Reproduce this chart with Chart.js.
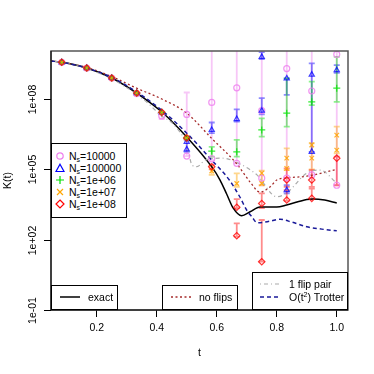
<!DOCTYPE html>
<html>
<head>
<meta charset="utf-8">
<script src="https://cdn.jsdelivr.net/npm/chart.js@4"></script>
<style>
body { margin: 0; background: #fff; font-family: "Liberation Sans", Arial, sans-serif; }
#wrap { position: relative; width: 374px; height: 374px; }
.lg { position: absolute; background: #fff; border: 1px solid #000; box-sizing: border-box; font-size: 10.5px; color: #000; }
.row { position: absolute; left: 0; height: 12px; line-height: 12px; white-space: nowrap; }
.row svg { position: absolute; }
.row .txt { position: absolute; top: 0; }
sub { font-size: 7px; vertical-align: -2px; line-height: 0; }
sup { font-size: 7px; vertical-align: 4px; line-height: 0; }
</style>
</head>
<body>
<div id="wrap">
  <canvas id="canvas" width="374" height="374"></canvas>

  <div class="lg" style="left:51px; top:143px; width:76px; height:75px;">
    <div class="row" style="top:6px"><svg style="left:3px;top:1px" width="10" height="10"><circle cx="5" cy="5" r="3.2" fill="none" stroke="#ee82ee" stroke-width="1.2"/></svg><span class="txt" style="left:17px">N<sub>s</sub>=10000</span></div>
    <div class="row" style="top:18px"><svg style="left:3px;top:1px" width="10" height="10"><polygon points="5,1.2 9,8.5 1,8.5" fill="none" stroke="#0000ff" stroke-width="1.2"/></svg><span class="txt" style="left:17px">N<sub>s</sub>=100000</span></div>
    <div class="row" style="top:30px"><svg style="left:3px;top:1px" width="10" height="10"><path d="M1 5H9M5 1V9" stroke="#00e000" stroke-width="1.2"/></svg><span class="txt" style="left:17px">N<sub>s</sub>=1e+06</span></div>
    <div class="row" style="top:42px"><svg style="left:3px;top:1px" width="10" height="10"><path d="M2 2L8 8M8 2L2 8" stroke="#ffa500" stroke-width="1.2"/></svg><span class="txt" style="left:17px">N<sub>s</sub>=1e+07</span></div>
    <div class="row" style="top:54px"><svg style="left:3px;top:1px" width="10" height="10"><polygon points="5,1 9,5 5,9 1,5" fill="none" stroke="#ff0000" stroke-width="1.2"/></svg><span class="txt" style="left:17px">N<sub>s</sub>=1e+08</span></div>
  </div>

  <div class="lg" style="left:51px; top:285px; width:67px; height:25px;">
    <div class="row" style="top:5px"><svg style="left:8px;top:0" width="22" height="12"><line x1="0" y1="6" x2="20" y2="6" stroke="#000" stroke-width="1.5"/></svg><span class="txt" style="left:36px">exact</span></div>
  </div>

  <div class="lg" style="left:162px; top:285px; width:76px; height:25px;">
    <div class="row" style="top:5px"><svg style="left:8px;top:0" width="22" height="12"><line x1="0" y1="6" x2="20" y2="6" stroke="#a52a2a" stroke-width="1.3" stroke-dasharray="2,2.5"/></svg><span class="txt" style="left:36px">no flips</span></div>
  </div>

  <div class="lg" style="left:252px; top:272px; width:96px; height:38px;">
    <div class="row" style="top:5px"><svg style="left:7px;top:0" width="22" height="12"><line x1="0" y1="6" x2="20" y2="6" stroke="#aaa" stroke-width="1.2" stroke-dasharray="1,3,4,3"/></svg><span class="txt" style="left:36px">1 flip pair</span></div>
    <div class="row" style="top:18px"><svg style="left:7px;top:0" width="22" height="12"><line x1="0" y1="6" x2="20" y2="6" stroke="#1a1a99" stroke-width="1.5" stroke-dasharray="4,3"/></svg><span class="txt" style="left:36px">O(t<sup>2</sup>) Trotter</span></div>
  </div>
</div>

<script>
// axis ticks
const xTicks = [0.2, 0.4, 0.6, 0.8, 1.0];
const yTicks = [1e-1, 1e2, 1e5, 1e8];
const yTickLabels = ['1e-01', '1e+02', '1e+05', '1e+08'];

// curves
const exactT = [0.047, 0.083, 0.167, 0.25, 0.333, 0.417, 0.5, 0.583, 0.611, 0.633, 0.655, 0.683, 0.711, 0.744, 0.8, 0.833, 0.9, 0.921, 0.96, 1.0];
const exactK = [4.2e9, 3.7e9, 2.1e9, 7.9e8, 1.8e8, 2.8e7, 2.4e6, 1.3e5, 3.5e4, 8.9e3, 2.2e3, 1.05e3, 1.55e3, 2.5e3, 2.45e3, 3.0e3, 5.2e3, 5.5e3, 4.9e3, 3.7e3];

const noFlipT = [0.047, 0.083, 0.167, 0.25, 0.333, 0.417, 0.5, 0.583, 0.667, 0.711, 0.744, 0.778, 0.8, 0.833, 0.9, 1.0];
const noFlipK = [4.2e9, 3.7e9, 2.2e9, 9.1e8, 2.9e8, 1.0e8, 2.5e7, 2.1e6, 1.7e5, 2.9e4, 1.07e4, 1.8e4, 3.5e4, 4.3e4, 5.1e4, 1.0e5];

const flipT = [0.047, 0.083, 0.167, 0.25, 0.333, 0.378, 0.411, 0.456, 0.5, 0.518, 0.534, 0.562, 0.618, 0.662, 0.734, 0.8, 0.833, 0.9, 0.944, 1.0];
const flipK = [4.2e9, 3.7e9, 2.0e9, 7.2e8, 1.6e8, 5.5e7, 2.1e7, 8.3e6, 1.1e6, 1.5e5, 1.3e5, 2.5e5, 3.0e5, 2.1e5, 5.8e4, 6.8e3, 9.8e3, 6.9e4, 9.3e4, 2.6e4];

const trotT = [0.047, 0.083, 0.167, 0.25, 0.333, 0.417, 0.5, 0.583, 0.642, 0.678, 0.7, 0.717, 0.735, 0.778, 0.811, 0.85, 0.9, 0.95, 1.0];
const trotK = [4.2e9, 3.7e9, 2.1e9, 8.3e8, 2.0e8, 3.3e7, 3.5e6, 2.5e5, 3.5e4, 6.3e3, 1.8e3, 955, 525, 617, 741, 562, 355, 282, 240];

// sampled estimates
const ns1e4T = [0.0833, 0.1667, 0.25, 0.3333, 0.4167, 0.5, 0.5, 0.5833, 0.5833, 0.6667, 0.6667, 0.75, 0.75, 0.8333, 0.8333, 0.9167, 0.9167, 1, 1];
const ns1e4K = [3.7e9, 2.1e9, 7.9e8, 1.7e8, 1.9e7, 2.2e7, 3.7e5, 7.2e7, 2.8e5, 3.0e8, 1.8e5, 3.2e7, 4.2e4, 2.0e9, 4.2e4, 2.2e8, 5.8e4, 8.1e9, 2.1e4];
const ns1e4BarT = [0.4167, 0.5, 0.5833, 0.6667, 0.75, 0.8333, 0.9167, 1];
const ns1e4Lo = [1.4e7, 3.7e5, 2.5e5, 1.8e5, 2.1e4, 4.2e4, 5.8e4, 2.1e4];
const ns1e4Hi = [2.8e7, 1.9e8, 1e11, 1e11, 1e11, 1e11, 1e11, 1e11];

const ns1e5T = [0.0833, 0.1667, 0.25, 0.3333, 0.4167, 0.5, 0.5, 0.5833, 0.6667, 0.75, 0.75, 0.8333, 0.8333, 0.9167, 0.9167, 1];
const ns1e5K = [3.7e9, 2.1e9, 7.9e8, 1.8e8, 2.7e7, 1.5e6, 7.1e5, 4.8e6, 1.4e7, 6.3e9, 3.2e7, 7.6e8, 1.3e4, 1.1e9, 5.6e5, 1.7e9];
const ns1e5BarT = [0.5, 0.5833, 0.6667, 0.75, 0.75, 0.8333, 0.8333, 0.9167, 1];
const ns1e5Lo = [5.6e5, 3.5e6, 1.1e7, 5.0e9, 2.2e7, 1.5e8, 9.5e3, 5.6e5, 1.3e9];
const ns1e5Hi = [1.8e6, 1.0e7, 3.6e7, 1.0e10, 1.1e8, 7.6e8, 2.1e4, 3.3e9, 2.8e9];

const ns1e6T = [0.0833, 0.1667, 0.25, 0.3333, 0.4167, 0.5, 0.5833, 0.6667, 0.75, 0.8333, 0.9167, 1];
const ns1e6K = [3.7e9, 2.1e9, 7.9e8, 1.8e8, 2.7e7, 2.2e6, 6.0e5, 5.6e5, 4.8e6, 2.5e7, 7.6e7, 2.9e8];
const ns1e6BarT = [0.5, 0.5833, 0.6667, 0.75, 0.8333, 0.9167, 1];
const ns1e6Lo = [2.0e6, 3.5e5, 3.5e5, 2.5e6, 6.6e6, 5.5e7, 7.6e7];
const ns1e6Hi = [2.5e6, 9.1e5, 1.8e6, 1.5e7, 7.6e8, 5.5e8, 6.3e9];

const ns1e7T = [0.0833, 0.1667, 0.25, 0.3333, 0.4167, 0.5, 0.5833, 0.6667, 0.75, 0.75, 0.8333, 0.8333, 0.9167, 0.9167, 1, 1];
const ns1e7K = [3.7e9, 2.1e9, 7.9e8, 1.8e8, 2.7e7, 2.2e6, 8.5e4, 2.5e4, 6.9e4, 2.5e4, 3.0e5, 1.1e5, 1.1e6, 3.0e5, 2.9e6, 6.6e5];
const ns1e7BarT = [0.5833, 0.6667, 0.75, 0.8333, 0.9167, 1];
const ns1e7Lo = [5.8e4, 1.8e4, 2.1e4, 9.3e4, 1.0e5, 4.8e5];
const ns1e7Hi = [1.4e5, 6.8e4, 8.9e4, 7.9e5, 1.3e6, 6.6e6];

const ns1e8T = [0.0833, 0.1667, 0.25, 0.3333, 0.4167, 0.5, 0.5833, 0.6667, 0.6667, 0.75, 0.75, 0.8333, 0.8333, 0.9167, 0.9167, 1];
const ns1e8K = [3.7e9, 2.1e9, 7.9e8, 1.8e8, 2.7e7, 2.2e6, 1.3e5, 2.4e3, 148, 3.5e3, 11.5, 3.5e4, 4.9e3, 3.5e4, 5.8e3, 3.0e5];
const ns1e8BarT = [0.5833, 0.6667, 0.6667, 0.75, 0.75, 0.8333, 0.8333, 0.9167, 0.9167, 1];
const ns1e8Lo = [1.0e5, 2.2e3, 135, 2.2e3, 11.5, 1.8e4, 4.5e3, 1.8e4, 5.4e3, 2.1e4];
const ns1e8Hi = [1.6e5, 5.4e3, 500, 9.5e3, 692, 1.1e5, 1.3e4, 9.3e4, 1.5e4, 3.5e5];

function pts(ts, ks) {
  return ts.map((t, i) => ({ x: t, y: ks[i] }));
}

const errBars = [
  { t: ns1e4BarT, lo: ns1e4Lo, hi: ns1e4Hi, color: 'rgba(238,130,238,0.45)' },
  { t: ns1e5BarT, lo: ns1e5Lo, hi: ns1e5Hi, color: 'rgba(0,0,255,0.45)' },
  { t: ns1e6BarT, lo: ns1e6Lo, hi: ns1e6Hi, color: 'rgba(0,230,0,0.45)' },
  { t: ns1e7BarT, lo: ns1e7Lo, hi: ns1e7Hi, color: 'rgba(255,165,0,0.45)' },
  { t: ns1e8BarT, lo: ns1e8Lo, hi: ns1e8Hi, color: 'rgba(255,0,0,0.45)' }
];

const font = '"Liberation Sans", Arial, sans-serif';

const frame = {
  id: 'frame',
  beforeDatasetsDraw(chart) {
    const { ctx, chartArea: a, scales: { x, y } } = chart;
    ctx.save();
    ctx.beginPath();
    ctx.rect(a.left, a.top, a.right - a.left, a.bottom - a.top);
    ctx.clip();
    ctx.lineWidth = 1.8;
    errBars.forEach(s => {
      ctx.strokeStyle = s.color;
      s.t.forEach((t, i) => {
        const px = x.getPixelForValue(t);
        const y1 = y.getPixelForValue(s.lo[i]);
        const y2 = y.getPixelForValue(s.hi[i]);
        ctx.beginPath();
        ctx.moveTo(px, y1); ctx.lineTo(px, y2);
        ctx.moveTo(px - 3, y1); ctx.lineTo(px + 3, y1);
        ctx.moveTo(px - 3, y2); ctx.lineTo(px + 3, y2);
        ctx.stroke();
      });
    });
    ctx.restore();
  },
  afterDraw(chart) {
    const { ctx, chartArea: a, scales: { y } } = chart;
    ctx.save();
    ctx.strokeStyle = '#555';
    ctx.lineWidth = 1.5;
    ctx.strokeRect(a.left, a.top, a.right - a.left, a.bottom - a.top);
    ctx.strokeStyle = '#000';
    ctx.lineWidth = 1;
    ctx.beginPath();
    ctx.moveTo(a.left, a.top); ctx.lineTo(a.left, a.bottom); ctx.lineTo(a.right, a.bottom);
    ctx.stroke();
    ctx.fillStyle = '#000';
    ctx.font = '10.5px ' + font;
    ctx.textAlign = 'center';
    ctx.textBaseline = 'middle';
    yTicks.forEach((v, i) => {
      const py = Math.round(y.getPixelForValue(v)) + 0.5;
      ctx.beginPath();
      ctx.moveTo(a.left - 7, py); ctx.lineTo(a.left, py);
      ctx.stroke();
      ctx.save();
      ctx.translate(33, py);
      ctx.rotate(-Math.PI / 2);
      ctx.fillText(yTickLabels[i], 0, 0);
      ctx.restore();
    });
    // axis titles
    ctx.save();
    ctx.translate(8, (a.top + a.bottom) / 2);
    ctx.rotate(-Math.PI / 2);
    ctx.fillText('K(t)', 0, 0);
    ctx.restore();
    ctx.fillText('t', (a.left + a.right) / 2, 353);
    ctx.restore();
  }
};

function curve(label, ts, ks, color, width, dash, order) {
  return {
    label: label, data: pts(ts, ks), borderColor: color, borderWidth: width,
    borderDash: dash, pointRadius: 0, cubicInterpolationMode: 'monotone',
    fill: false, order: order
  };
}

function marks(label, ts, ks, color, style, radius, order) {
  return {
    label: label, data: pts(ts, ks), showLine: false, pointStyle: style,
    pointRadius: radius, pointBorderColor: color, pointBackgroundColor: 'rgba(0,0,0,0)',
    pointBorderWidth: 1.2, borderColor: color, order: order
  };
}

new Chart(document.getElementById('canvas'), {
  type: 'line',
  data: {
    datasets: [
      curve('exact', exactT, exactK, '#000', 1.5, [], 9),
      curve('no flips', noFlipT, noFlipK, '#a52a2a', 1.3, [2, 2.5], 8),
      curve('1 flip pair', flipT, flipK, '#aaa', 1.2, [1, 3, 4, 3], 7),
      curve('O(t^2) Trotter', trotT, trotK, '#1a1a99', 1.5, [4, 3], 6),
      marks('Ns=10000', ns1e4T, ns1e4K, 'rgba(238,130,238,0.85)', 'circle', 3, 5),
      marks('Ns=100000', ns1e5T, ns1e5K, 'rgba(0,0,255,0.75)', 'triangle', 3, 4),
      marks('Ns=1e+06', ns1e6T, ns1e6K, 'rgba(0,230,0,0.8)', 'cross', 3.5, 3),
      marks('Ns=1e+07', ns1e7T, ns1e7K, 'rgba(255,165,0,0.85)', 'crossRot', 3.2, 2),
      marks('Ns=1e+08', ns1e8T, ns1e8K, 'rgba(255,0,0,0.8)', 'rectRot', 3.2, 1)
    ]
  },
  options: {
    responsive: false,
    animation: false,
    layout: { padding: { left: 0, top: 51, right: 26, bottom: 0 } },
    plugins: { legend: { display: false }, tooltip: { enabled: false } },
    scales: {
      x: {
        type: 'linear', min: 0.0475, max: 1.0375,
        afterBuildTicks: s => { s.ticks = xTicks.map(v => ({ value: v })); },
        afterFit: s => { s.height = 64; },
        ticks: { color: '#000', font: { family: font, size: 10.5 }, padding: 5, maxRotation: 0,
          callback: v => v.toFixed(1) },
        grid: { drawOnChartArea: false, drawTicks: true, tickLength: 7, color: '#000' },
        border: { display: false }
      },
      y: {
        type: 'logarithmic', min: 0.1, max: 1.12e10,
        afterBuildTicks: s => { s.ticks = yTicks.map(v => ({ value: v })); },
        afterFit: s => { s.width = 51; },
        ticks: { display: false },
        grid: { display: false },
        border: { display: false }
      }
    }
  },
  plugins: [frame]
});
</script>
</body>
</html>
